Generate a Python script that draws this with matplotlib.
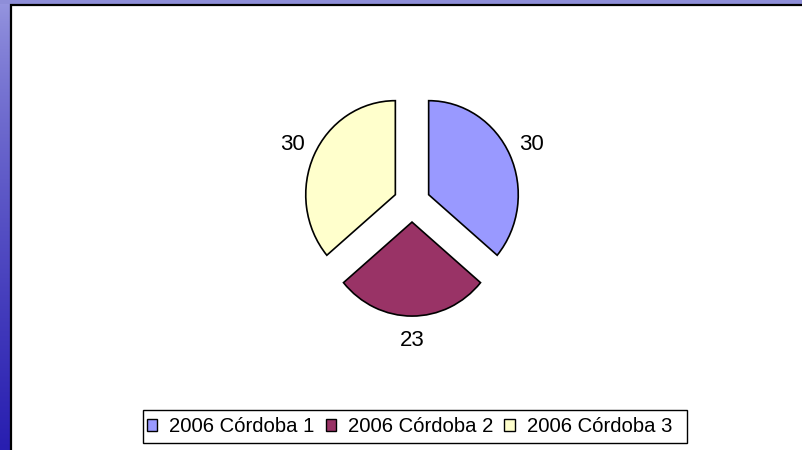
import numpy as np
import matplotlib
matplotlib.use("Agg")
import matplotlib.pyplot as plt
from matplotlib.patches import Rectangle, Patch

categories = ["2006 Córdoba 1", "2006 Córdoba 2", "2006 Córdoba 3"]
values = [30, 23, 30]
colors = ["#9999ff", "#993366", "#ffffcc"]

plt.rcParams['font.family'] = ['Liberation Sans', 'DejaVu Sans']

W, H = 803, 450
fig = plt.figure(figsize=(W / 100, H / 100), dpi=100)

# background: gradient stripe left, lavender top, white panel with black border
bg = fig.add_axes([0, 0, 1, 1])
bg.set_axis_off()
grad = np.linspace(0, 1, 256)[:, None] ** 0.75
top_c = np.array([152, 152, 224]) / 255
bot_c = np.array([40, 30, 176]) / 255
img = top_c[None, None, :] * (1 - grad[:, :, None]) + bot_c[None, None, :] * grad[:, :, None]
bg.imshow(img, extent=[0, 1, 0, 1], aspect='auto', origin='upper')
bg.add_patch(Rectangle((0, 1 - 4 / H), 1, 4 / H, color="#8e8ed8", lw=0))
bg.add_patch(Rectangle((11.5 / W, -0.01), 1.0, 1 - 4.5 / H + 0.01, facecolor="white",
                       edgecolor="black", lw=1.6))
# legend frame
bg.add_patch(Rectangle((143 / W, 1 - 443 / H), 544 / W, 33 / H, facecolor="white",
                       edgecolor="black", lw=1.0))
bg.set_xlim(0, 1)
bg.set_ylim(0, 1)

# pie (slightly narrower horizontally, as in the reference)
RX, RY = 89.6, 94.0
cx, cy = 412.0, 202.8
half = 160
ax = fig.add_axes([(cx - half) / W, (H - cy - half) / H, 2 * half / W, 2 * half / H])
ax.set_axis_off()
wedges, texts = ax.pie(values, colors=colors, startangle=90, counterclock=False,
                       explode=[0.205] * 3, labels=[str(v) for v in values],
                       labeldistance=1.26,
                       wedgeprops=dict(edgecolor="black", linewidth=1.2),
                       textprops=dict(fontsize=16, color="black"))
for t in texts:
    t.set_ha('center')
    t.set_va('center')
ax.set_aspect('auto')
ax.set_xlim(-half / RX, half / RX)
ax.set_ylim(-half / RY, half / RY)

handles = [Patch(facecolor=c, edgecolor="black", linewidth=1.0) for c in colors]
leg = fig.legend(handles, categories, loc='center', bbox_to_anchor=(409.5 / W, 1 - 426.5 / H),
                 ncol=3, fontsize=14.6, frameon=False,
                 handlelength=0.52, handleheight=0.52, handletextpad=0.58,
                 columnspacing=0.55, borderpad=0.2)

fig.savefig("out.png", dpi=100)
